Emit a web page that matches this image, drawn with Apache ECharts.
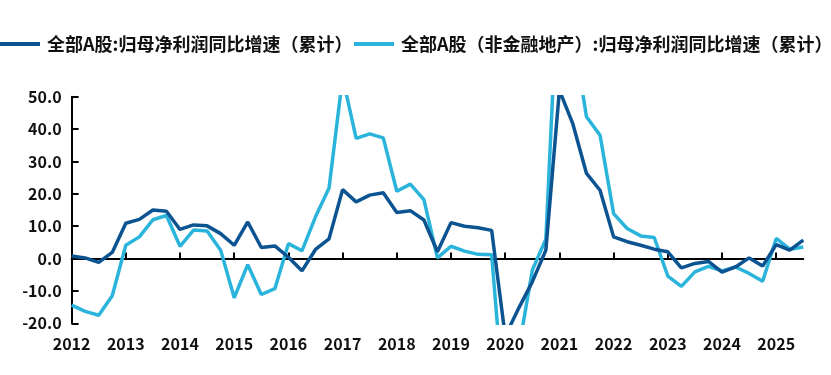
<!DOCTYPE html>
<html>
<head>
<meta charset="utf-8">
<script src="https://cdn.jsdelivr.net/npm/echarts@6/dist/echarts.min.js"></script>
<style>
html,body{margin:0;padding:0;background:#fff;}
#chart{width:831px;height:375px;}
</style>
</head>
<body>
<div id="chart"></div>
<script>
// Quarterly categories 2012Q1 .. 2025Q3
var years = ['2012','2013','2014','2015','2016','2017','2018','2019','2020','2021','2022','2023','2024','2025'];
var categories = [];
years.forEach(function (y) { ['Q1','Q2','Q3','Q4'].forEach(function (q) { categories.push(y + q); }); });
categories = categories.slice(0, 55);

var seriesNames = ['全部A股:归母净利润同比增速（累计）', '全部A股（非金融地产）:归母净利润同比增速（累计）'];

var allA = [0.8, 0.2, -1.2, 1.9, 10.9, 12.1, 15.0, 14.6, 9.0, 10.4, 10.1, 7.7,
  4.1, 11.3, 3.4, 3.9, 0.4, -3.8, 2.8, 6.1, 21.3, 17.5, 19.6, 20.3,
  14.2, 14.8, 11.9, 2.1, 11.1, 10.0, 9.5, 8.7, -24.0, -15.3, -7.2, 2.6,
  52.0, 41.5, 26.3, 21.1, 6.7, 5.2, 4.1, 2.9, 2.1, -2.9, -1.5, -0.9,
  -4.2, -2.6, 0.2, -2.3, 4.3, 2.6, 5.7];

var nonFin = [-14.4, -16.3, -17.5, -11.5, 4.1, 6.7, 12.0, 13.3, 3.8, 8.8, 8.5, 2.6,
  -12.1, -1.9, -11.1, -9.3, 4.6, 2.4, 12.9, 21.8, 56.0, 37.1, 38.5, 37.3,
  20.8, 23.0, 18.2, 0.2, 3.8, 2.3, 1.3, 1.2, -50.0, -28.0, -3.6, 6.0,
  95.0, 70.0, 43.8, 38.1, 13.9, 9.3, 7.0, 6.5, -5.4, -8.6, -4.1, -2.4,
  -3.8, -2.6, -4.6, -7.0, 6.2, 2.9, 3.6];

var yTicks = { min: -20, max: 50, interval: 10 };
var colors = ['#0c5391', '#2bb4db'];

var chart = echarts.init(document.getElementById('chart'), null, { renderer: 'canvas' });
var font = '"Noto Sans CJK SC", "Noto Sans", sans-serif';

function legendAt(left, name) {
  return {
    left: left,
    top: 35,
    icon: 'rect',
    itemWidth: 40,
    itemHeight: 4,
    padding: 0,
    textStyle: { fontFamily: font, fontSize: 18, fontWeight: 'bold', color: '#111', padding: [0, 0, 0, 2] },
    data: [name]
  };
}

chart.setOption({
  animation: false,
  backgroundColor: '#fff',
  color: colors,
  legend: [legendAt(0, seriesNames[0]), legendAt(354, seriesNames[1])],
  grid: { left: 71.6, right: 27.7, top: 96.7, bottom: 51.7, containLabel: false },
  xAxis: [{
    type: 'category',
    position: 'bottom',
    data: categories,
    boundaryGap: false,
    axisLine: { show: false, onZero: false },
    axisTick: { show: false },
    splitLine: { show: false },
    axisLabel: {
      interval: function (i) { return i % 4 === 0; },
      formatter: function (v) { return v.slice(0, 4); },
      fontFamily: font, fontSize: 16, fontWeight: 'bold', color: '#111', margin: 13
    }
  }, {
    type: 'category',
    position: 'bottom',
    data: categories,
    boundaryGap: false,
    axisLine: { show: true, onZero: true, lineStyle: { color: '#000', width: 2 } },
    axisTick: { show: true, inside: true, length: 6, interval: function (i) { return i % 4 === 0; }, lineStyle: { color: '#000', width: 2 } },
    axisLabel: { show: false },
    splitLine: { show: false }
  }],
  yAxis: {
    type: 'value',
    min: yTicks.min, max: yTicks.max, interval: yTicks.interval,
    axisLine: { show: true, onZero: false, lineStyle: { color: '#000', width: 2 } },
    axisTick: { show: true, inside: true, length: 7, lineStyle: { color: '#000', width: 2 } },
    splitLine: { show: false },
    axisLabel: {
      formatter: function (v) { return v.toFixed(1); },
      fontFamily: font, fontSize: 16, fontWeight: 'bold', color: '#111', margin: 10
    }
  },
  series: [{
    name: seriesNames[0], type: 'line', data: allA, xAxisIndex: 1,
    showSymbol: false, symbol: 'none', clip: true, z: 3,
    lineStyle: { width: 3.5, color: colors[0] }
  }, {
    name: seriesNames[1], type: 'line', data: nonFin, xAxisIndex: 1,
    showSymbol: false, symbol: 'none', clip: true, z: 2,
    lineStyle: { width: 3.5, color: colors[1] }
  }]
});
</script>
</body>
</html>
